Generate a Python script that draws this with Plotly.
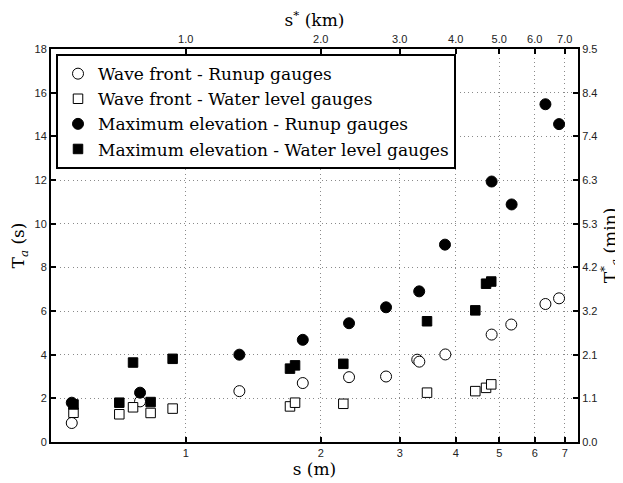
import numpy as np
import plotly.graph_objects as go

# Wave front - Runup gauges
wf_run_s = [0.557, 0.791, 1.317, 1.824, 2.313, 2.797, 3.283, 3.318, 3.792, 4.81, 5.32, 6.34, 6.80]
wf_run_t = [0.87, 1.86, 2.33, 2.70, 2.97, 3.00, 3.77, 3.68, 4.01, 4.92, 5.38, 6.32, 6.58]

# Wave front - Water level gauges
wf_wl_s = [0.562, 0.711, 0.763, 0.835, 0.935, 1.708, 1.753, 2.246, 3.452, 4.423, 4.674, 4.80]
wf_wl_t = [1.34, 1.27, 1.59, 1.33, 1.53, 1.63, 1.80, 1.75, 2.26, 2.33, 2.48, 2.64]

# Maximum elevation - Runup gauges
me_run_s = [0.557, 0.791, 1.317, 1.824, 2.313, 2.797, 3.316, 3.785, 4.81, 5.33, 6.34, 6.80]
me_run_t = [1.80, 2.26, 4.00, 4.68, 5.44, 6.17, 6.90, 9.04, 11.93, 10.88, 15.47, 14.56]

# Maximum elevation - Water level gauges
me_wl_s = [0.562, 0.711, 0.763, 0.835, 0.935, 1.708, 1.753, 2.246, 3.452, 4.423, 4.674, 4.80]
me_wl_t = [1.72, 1.80, 3.64, 1.83, 3.81, 3.36, 3.51, 3.58, 5.53, 6.03, 7.25, 7.35]

x_ticks = [1, 2, 3, 4, 5, 6, 7]
x_ticklabels = ["1", "2", "3", "4", "5", "6", "7"]
x_top_ticklabels = ["1.0", "2.0", "3.0", "4.0", "5.0", "6.0", "7.0"]
y_ticks = [0, 2, 4, 6, 8, 10, 12, 14, 16, 18]
time_scale = np.sqrt(1000.0) / 60.0  # s (model) -> min (prototype)
y_right_ticklabels = ["%.1f" % (t * time_scale) for t in y_ticks]

x_range = [np.log10(0.5007), np.log10(7.494)]
y_range = [0, 18]

serif = "DejaVu Serif"
sans = "Liberation Sans"
tick_font = dict(family=sans, size=11, color="#222")
title_font = dict(family=serif, size=17, color="black")

fig = go.Figure()

fig.add_trace(go.Scatter(x=wf_run_s, y=wf_run_t, mode="markers", name="Wave front - Runup gauges",
                         marker=dict(symbol="circle", size=11, color="white", line=dict(color="black", width=1))))
fig.add_trace(go.Scatter(x=wf_wl_s, y=wf_wl_t, mode="markers", name="Wave front - Water level gauges",
                         marker=dict(symbol="square", size=9.5, color="white", line=dict(color="black", width=1))))
fig.add_trace(go.Scatter(x=me_run_s, y=me_run_t, mode="markers", name="Maximum elevation - Runup gauges",
                         marker=dict(symbol="circle", size=11, color="black", line=dict(color="black", width=1))))
fig.add_trace(go.Scatter(x=me_wl_s, y=me_wl_t, mode="markers", name="Maximum elevation - Water level gauges",
                         marker=dict(symbol="square", size=9.5, color="black", line=dict(color="black", width=1))))

# dummy trace to activate the secondary axes
fig.add_trace(go.Scatter(x=[1], y=[None], xaxis="x2", yaxis="y2", showlegend=False, hoverinfo="skip"))

grid = dict(showgrid=True, gridcolor="#8a8a8a", griddash="1px,3.3px", gridwidth=1)
tick_common = dict(ticks="inside", ticklen=5, tickwidth=1.5, tickcolor="black",
                   showline=True, linecolor="black", linewidth=2,
                   tickfont=tick_font, zeroline=False, automargin=False)

# page body has an 8px default margin, so the figure is sized to fit the 623x483 window
fig.update_layout(
    template="none",
    width=615, height=475,
    margin=dict(l=43, r=45, t=41, b=41),
    paper_bgcolor="white", plot_bgcolor="white",
    showlegend=True,
    legend=dict(x=0.0095, y=0.987, xanchor="left", yanchor="top",
                bgcolor="white", bordercolor="black", borderwidth=2,
                font=dict(family=serif, size=17, color="black"),
                tracegroupgap=0),
    xaxis=dict(type="log", range=x_range, tickvals=x_ticks, ticktext=x_ticklabels,
               title=dict(text="s (m)", font=title_font, standoff=3),
               **tick_common, **grid),
    xaxis2=dict(type="log", range=x_range, tickvals=x_ticks, ticktext=x_top_ticklabels,
                overlaying="x", side="top", anchor="y", showgrid=False,
                title=dict(text="s<sup>*</sup> (km)", font=title_font, standoff=5),
                **tick_common),
    yaxis=dict(range=y_range, tickvals=y_ticks, ticktext=[str(v) for v in y_ticks],
               title=dict(text="T<sub><i>a</i></sub> (s)", font=title_font, standoff=7),
               **tick_common, **grid),
    yaxis2=dict(range=y_range, tickvals=y_ticks, ticktext=y_right_ticklabels,
                overlaying="y", side="right", anchor="x", showgrid=False,
                title=dict(text="T<sup>*</sup><sub><i>a</i></sub> (min)", font=title_font, standoff=0),
                **tick_common),
)

fig.write_html("out.html")
